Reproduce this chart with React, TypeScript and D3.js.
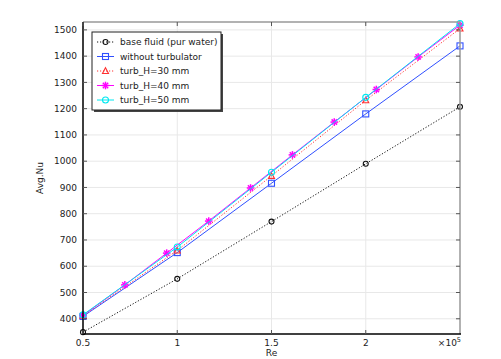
import React from 'react';
import { scaleLinear, line } from 'd3';

const width = 501;
const height = 359;
const margin = { top: 22, right: 41, bottom: 25, left: 83 };

// Re values (x10^5)
const reCoarse = [0.5, 1, 1.5, 2, 2.5];
const reFine = [0.5, 0.722, 0.944, 1.167, 1.389, 1.611, 1.833, 2.056, 2.278, 2.5];

// Avg. Nu series
const baseFluid = [349, 552, 770, 990, 1207];
const withoutTurb = [409, 652, 916, 1180, 1439];
const turb30 = [412, 660, 944, 1232, 1505];
const turb40 = [413, 529, 650, 772, 898, 1024, 1149, 1273, 1397, 1518];
const turb50 = [415, 673, 958, 1243, 1524];

const xTicks = [0.5, 1, 1.5, 2];
const yTicks = [400, 500, 600, 700, 800, 900, 1000, 1100, 1200, 1300, 1400, 1500];

const series = [
  { name: 'base fluid (pur water)', xs: reCoarse, ys: baseFluid, color: '#111111', dash: '1.2,1.8', marker: 'circle' },
  { name: 'without turbulator', xs: reCoarse, ys: withoutTurb, color: '#3050ff', dash: null, marker: 'square' },
  { name: 'turb_H=30 mm', xs: reCoarse, ys: turb30, color: '#ff3030', dash: '1.2,1.8', marker: 'triangle' },
  { name: 'turb_H=40 mm', xs: reFine, ys: turb40, color: '#ff00ff', dash: null, marker: 'star' },
  { name: 'turb_H=50 mm', xs: reCoarse, ys: turb50, color: '#00e8f0', dash: null, marker: 'circle2' },
];

const font = 'DejaVu Sans, sans-serif';

const Marker = ({ type, x, y, color }: { type: string; x: number; y: number; color: string }) => {
  if (type === 'circle')
    return <circle cx={x} cy={y} r={2.5} fill="none" stroke={color} strokeWidth={1.1} />;
  if (type === 'square')
    return <rect x={x - 3} y={y - 3} width={6} height={6} fill="none" stroke={color} strokeWidth={1.1} />;
  if (type === 'triangle')
    return <path d={`M${x},${y - 3.2}L${x + 3},${y + 2.5}L${x - 3},${y + 2.5}Z`} fill="none" stroke={color} strokeWidth={1.1} />;
  if (type === 'star') {
    const r = 3.8;
    return (
      <g stroke={color} strokeWidth={1.5}>
        <line x1={x - r} y1={y} x2={x + r} y2={y} />
        <line x1={x} y1={y - r} x2={x} y2={y + r} />
        <line x1={x - r * 0.7} y1={y - r * 0.7} x2={x + r * 0.7} y2={y + r * 0.7} />
        <line x1={x - r * 0.7} y1={y + r * 0.7} x2={x + r * 0.7} y2={y - r * 0.7} />
      </g>
    );
  }
  return <circle cx={x} cy={y} r={3} fill="none" stroke={color} strokeWidth={1.1} />;
};

const App = () => {
  const xScale = scaleLinear().domain([0.5, 2.5]).range([margin.left, width - margin.right]);
  const yScale = scaleLinear().domain([342, 1530]).range([height - margin.bottom, margin.top]);
  const lineFn = line<[number, number]>()
    .x(d => xScale(d[0]))
    .y(d => yScale(d[1]));

  const x0 = margin.left;
  const x1 = width - margin.right;
  const y0 = height - margin.bottom;
  const y1 = margin.top;

  return (
    <svg width={width} height={height} style={{ position: 'absolute', left: 0, top: 0, background: '#fff' }}>
      {/* grid */}
      <g stroke="#e8e8e8" strokeWidth={1}>
        {xTicks.map(t => (
          <line key={t} x1={xScale(t)} x2={xScale(t)} y1={y1} y2={y0} />
        ))}
        {yTicks.map(t => (
          <line key={t} x1={x0} x2={x1} y1={yScale(t)} y2={yScale(t)} />
        ))}
      </g>

      {/* data */}
      {series.map(s => {
        const pts = s.xs.map((x, i) => [x, s.ys[i]] as [number, number]);
        return (
          <g key={s.name}>
            <path d={lineFn(pts) || ''} fill="none" stroke={s.color} strokeWidth={1} strokeDasharray={s.dash || undefined} />
            {pts.map((p, i) => (
              <Marker key={i} type={s.marker} x={xScale(p[0])} y={yScale(p[1])} color={s.color} />
            ))}
          </g>
        );
      })}

      {/* frame */}
      <line x1={x0} x2={x1} y1={y1} y2={y1} stroke="#999" strokeWidth={1.5} />
      <line x1={x1} x2={x1} y1={y1} y2={y0} stroke="#999" strokeWidth={1.5} />
      <line x1={x0} x2={x1 + 1} y1={y0} y2={y0} stroke="#000" strokeWidth={1.5} />
      <line x1={x0} x2={x0} y1={y1} y2={y0} stroke="#000" strokeWidth={1.5} />

      {/* ticks */}
      <g stroke="#555" strokeWidth={1}>
        {xTicks.map(t => (
          <g key={t}>
            <line x1={xScale(t)} x2={xScale(t)} y1={y0} y2={y0 - 4} />
            <line x1={xScale(t)} x2={xScale(t)} y1={y1} y2={y1 + 4} />
          </g>
        ))}
        {yTicks.map(t => (
          <g key={t}>
            <line x1={x0} x2={x0 + 4} y1={yScale(t)} y2={yScale(t)} />
            <line x1={x1} x2={x1 - 4} y1={yScale(t)} y2={yScale(t)} />
          </g>
        ))}
      </g>

      {/* tick labels */}
      <g fontFamily={font} fontSize={9} fill="#222">
        {xTicks.map(t => (
          <text key={t} x={xScale(t)} y={y0 + 12} textAnchor="middle">{t}</text>
        ))}
        {yTicks.map(t => (
          <text key={t} x={x0 - 6} y={yScale(t) + 3.2} textAnchor="end">{t}</text>
        ))}
        <text x={x1 + 1} y={y0 + 12} textAnchor="end">
          ×10<tspan dy={-4} fontSize={6.5}>5</tspan>
        </text>
        <text x={(x0 + x1) / 2} y={height - 3} textAnchor="middle">Re</text>
        <text transform={`translate(43, ${(y0 + y1) / 2}) rotate(-90)`} textAnchor="middle">Avg.Nu</text>
      </g>

      {/* legend */}
      <g fontFamily={font} fontSize={9} fill="#222">
        <rect x={94} y={34} width={129} height={78} fill="#444" />
        <rect x={92} y={32} width={129} height={78} fill="#fff" stroke="#222" strokeWidth={1} />
        {series.map((s, i) => {
          const ly = 42 + i * 14.5;
          return (
            <g key={s.name}>
              <line x1={97} x2={114} y1={ly} y2={ly} stroke={s.color} strokeWidth={1} strokeDasharray={s.dash || undefined} />
              <Marker type={s.marker} x={105.5} y={ly} color={s.color} />
              <text x={120} y={ly + 3.2}>{s.name}</text>
            </g>
          );
        })}
      </g>
    </svg>
  );
};

export default App;
